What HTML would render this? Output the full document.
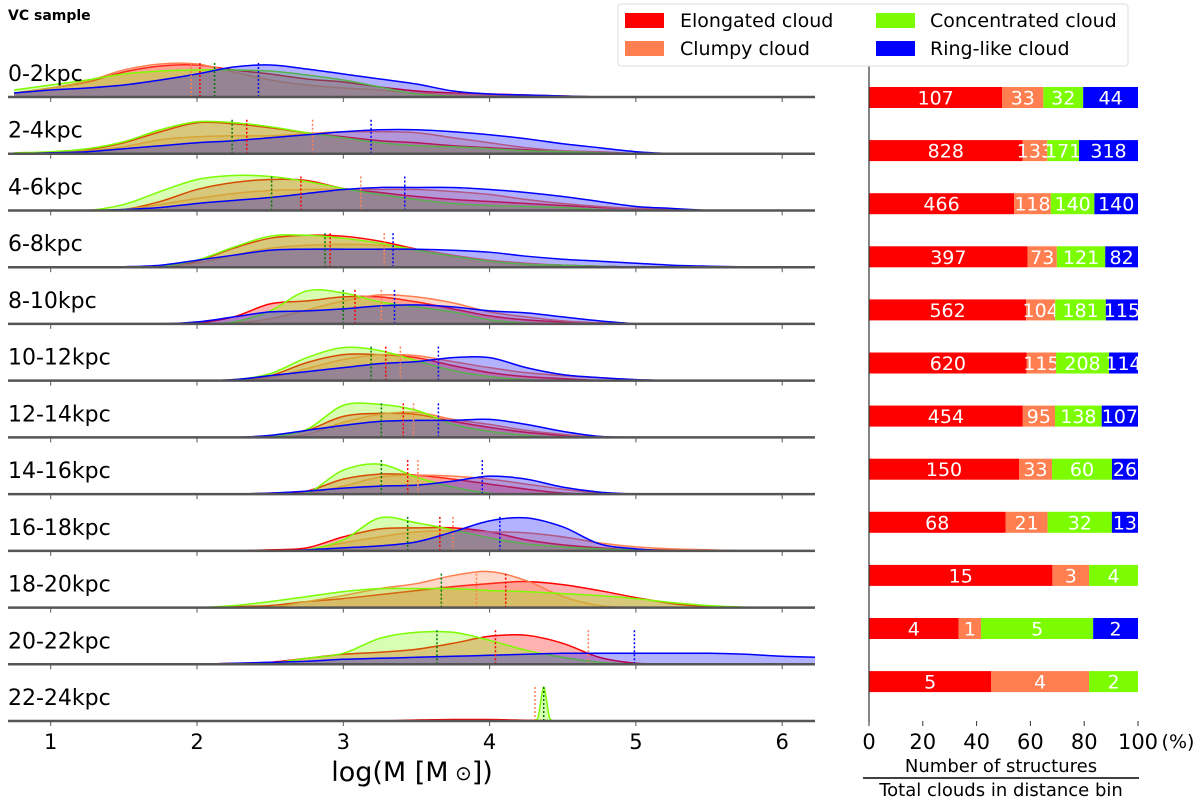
<!DOCTYPE html>
<html><head><meta charset="utf-8">
<style>
html,body{margin:0;padding:0;background:#fff;}
svg{display:block;font-family:"DejaVu Sans","Liberation Sans",sans-serif;}
</style></head>
<body>
<svg id="chart" width="1200" height="802" viewBox="0 0 1200 802" xmlns="http://www.w3.org/2000/svg">
<text x="8" y="20" font-size="14" font-weight="bold">VC sample</text>
<g id="ridges"></g>
<g id="bars"></g>
<g>
<rect x="618" y="4" width="510" height="62" rx="3" fill="#fff" stroke="#ddd"/>
<rect x="625" y="13" width="39" height="15" fill="#ff0000"/>
<text x="680" y="27" font-size="19">Elongated cloud</text>
<rect x="625" y="41" width="39" height="15" fill="#ff7f50"/>
<text x="680" y="55" font-size="19">Clumpy cloud</text>
<rect x="876" y="13" width="39" height="15" fill="#7cfc00"/>
<text x="930" y="27" font-size="19">Concentrated cloud</text>
<rect x="876" y="41" width="39" height="15" fill="#0000ff"/>
<text x="930" y="55" font-size="19">Ring-like cloud</text>
</g>
<text x="412" y="781" font-size="27" text-anchor="middle">log(M [M<tspan font-size="20" dy="-1"> ⊙</tspan><tspan dy="1">])</tspan></text>
<text x="1178" y="748" font-size="19" text-anchor="middle">(%)</text>
<text x="1001" y="772" font-size="18" text-anchor="middle">Number of structures</text>
<line x1="863" y1="778" x2="1139" y2="778" stroke="#000" stroke-width="1.5"/>
<text x="1001" y="796" font-size="18" text-anchor="middle">Total clouds in distance bin</text>
</svg>
<script>
// ---- data ----
const rowLabels = ["0-2kpc","2-4kpc","4-6kpc","6-8kpc","8-10kpc","10-12kpc","12-14kpc","14-16kpc","16-18kpc","18-20kpc","20-22kpc","22-24kpc"];
const gridLogM = [0.75,1,1.25,1.5,1.75,2,2.25,2.5,2.75,3,3.25,3.5,3.75,4,4.25,4.5,4.75,5,5.25,5.5,5.75,6,6.25];
const densElongated = [
 [4,9,15,25,31,32,27,23,18,15,10,6,4,3,2,1,0],
 [0,1,4,11,22,31,30,26,21,17,13,11,8,6,4,2,1,0],
 [0,0,0,1,9,21,28,31,30,22,18,14,11,9,7,5,3,2,1,0],
 [0,0,0,0,0,6,19,29,32,31,26,18,11,6,3,2,1,0],
 [0,0,0,0,0,1,7,20,23,27,27,22,15,8,4,2,1,0],
 [0,0,0,0,0,0,1,5,18,26,26,23,15,8,4,2,0],
 [0,0,0,0,0,0,0,1,7,21,24,23,16,10,5,2,0],
 [0,0,0,0,0,0,0,1,3,15,20,19,15,10,5,1,0],
 [0,0,0,0,0,0,0,1,3,14,22,23,23,19,11,6,3,1,1,0.5,0],
 [0,0,0,0,0,0,1,2,6,9,13,17,21,24,26,23,17,10,4,1,0],
 [0,0,0,0,0,0,1,2,6,10,12,15,21,28,29,21,7,1,0],
 [0,0,0,0,0,0,0,0,0,0,0,1,1.5,1.5,0.8,0]
];
const densClumpy = [
 [4,9,16,27,33,33,25,17,12,9,7,4,3,2,1,1,0],
 [0,1,3,7,14,17,18,18,20,22,22,21,16,11,6,3,2,0],
 [0,0,0,1,6,12,17,20,21,21,21,21,19,16,11,7,4,2,1,0],
 [0,0,0,0,1,4,12,19,22,23,22,18,12,7,4,2,1,0],
 [0,0,0,0,0,0,1,5,14,23,29,27,21,12,7,3,1,0],
 [0,0,0,0,0,0,0,3,12,21,26,25,19,13,8,5,3,1,0],
 [0,0,0,0,0,0,0,0,3,15,23,25,18,13,7,3,0],
 [0,0,0,0,0,0,0,0,1,8,17,19,18,15,10,5,1,0],
 [0,0,0,0,0,0,0,0,1,8,14,19,20,19,18,14,8,4,2,1,0],
 [0,0,0,0,0,0,0,0,6,12,19,24,32,36,27,11,2,0],
 null,
 null
];
const densConcentrated = [
 [7,12,17,23,26,27,27,26,22,17,10,3,1,0],
 [1,2,5,12,24,32,31,27,21,16,11,8,7,5,3,2,1,0],
 [0,0,0,6,19,31,35,34,29,22,16,11,7,5,4,3,1,0],
 [0,0,0,0,1,7,20,31,32,29,24,17,11,6,3,2,1,0],
 [0,0,0,0,0,0,2,13,33,31,22,17,12,4,1,0],
 [0,0,0,0,0,0,1,7,23,33,30,20,10,4,1,0],
 [0,0,0,0,0,0,0,1,8,32,33,27,13,6,2,0],
 [0,0,0,0,0,0,0,0,1,24,30,17,7,1,0],
 [0,0,0,0,0,0,0,0,1,11,33,28,21,13,7,4,2,1,0],
 [0,0,0,0,0,0,2,6,11,16,19,19,19,17,16,14,12,9,5,2,0.5,0],
 [0,0,0,0,0,0,0,1,6,11,26,32,32,24,14,7,2,0],
 null
];
const densRing = [
 [4,7,9,12,17,23,30,32,28,23,18,13,6,3,2,1,0],
 [0,1,2,5,8,11,13,16,19,22,24,24,22,19,15,10,6,2,0],
 [0,0,0,1,3,7,10,13,17,21,23,23,23,21,18,14,9,4,2,0],
 [0,0,0,0.5,2,7,12,17,18,18,18,18,17,15,11,8,6,4,2,1,0.3,0],
 [0,0,0,0,0,2,7,12,13,15,18,19,17,13,11,7,3,0],
 [0,0,0,0,0,0,1,5,9,13,17,19,23,23,13,6,3,1,0],
 [0,0,0,0,0,0,0,2,7,12,16,17,17,18,13,6,1,0],
 [0,0,0,0,0,0,0,1,3,6,8,9,13,18,15,7,2,0],
 [0,0,0,0,0,0,0,0,1,3,5,9,19,30,33,24,7,2,0],
 null,
 [0,0,0,0,0,0,1,2,3,5,6,7,8,9,10,11,11,11,11,11,10,8,7],
 null
];
const spikeLogM = [4.30,4.33,4.35,4.37,4.39,4.41,4.44];
const spikeDens = [0,3,20,34,20,3,0];
const medElongated = [2.02,2.34,2.71,2.91,3.08,3.29,3.41,3.44,3.66,4.11,4.04,null];
const medClumpy = [1.96,2.79,3.12,3.28,3.26,3.39,3.48,3.51,3.75,3.91,4.675,4.31];
const medConcentrated = [2.12,2.24,2.51,2.875,3.0,3.19,3.26,3.26,3.44,3.67,3.64,4.37];
const medRing = [2.42,3.19,3.42,3.34,3.35,3.65,3.65,3.95,4.07,null,4.99,null];
const cntElongated = [107,828,466,397,562,620,454,150,68,15,4,5];
const cntClumpy = [33,133,118,73,104,115,95,33,21,3,1,4];
const cntConcentrated = [32,171,140,121,181,208,138,60,32,4,5,2];
const cntRing = [44,318,140,82,115,114,107,26,13,0,2,0];
const xTicks = [1,2,3,4,5,6];
const pctTicks = [0,20,40,60,80,100];

// ---- scales ----
const NS = "http://www.w3.org/2000/svg";
const xL = v => 50.7 + (v - 1) * 146.3;
const baseY = i => 97 + i * 56.73;
const barY = i => 97.5 + i * 53.1;
const hS = v => v * 1.0;
const pX = p => 869 + p * 2.69;
const AX0 = 8, AX1 = 815;
function mk(tag, attrs, parent){ const e=document.createElementNS(NS,tag); for(const k in attrs) e.setAttribute(k,attrs[k]); parent.appendChild(e); return e; }
const ridges = document.getElementById('ridges');
const bars = document.getElementById('bars');
const svg = document.getElementById('chart');
const defs = mk('defs',{},svg);
const cp = mk('clipPath',{id:'clipL'},defs);
mk('rect',{x:AX0,y:0,width:AX1-AX0,height:802},cp);

function smoothPath(pts){
  let d = `M${pts[0][0]},${pts[0][1]}`;
  for(let i=0;i<pts.length-1;i++){
    const p0=pts[Math.max(0,i-1)],p1=pts[i],p2=pts[i+1],p3=pts[Math.min(pts.length-1,i+2)];
    const c1x=p1[0]+(p2[0]-p0[0])/6, c1y=p1[1]+(p2[1]-p0[1])/6;
    const c2x=p2[0]-(p3[0]-p1[0])/6, c2y=p2[1]-(p3[1]-p1[1])/6;
    d += ` C${c1x},${Math.min(c1y,pts[0][2])} ${c2x},${Math.min(c2y,pts[0][2])} ${p2[0]},${p2[1]}`;
  }
  return d;
}
const series = [
  {dens:densElongated, med:medElongated, col:'#ff0000', medCol:'#ff0000', key:'elongated'},
  {dens:densClumpy, med:medClumpy, col:'#ff7f50', medCol:'#ff7f50', key:'clumpy'},
  {dens:densConcentrated, med:medConcentrated, col:'#7cfc00', medCol:'#007a00', key:'concentrated'},
  {dens:densRing, med:medRing, col:'#0000ff', medCol:'#0000ff', key:'ring'}
];
const gL = mk('g',{'clip-path':'url(#clipL)'},ridges);
rowLabels.forEach((lab,i)=>{
  const by = baseY(i);
  const t = mk('text',{x:8,y:by-16,'font-size':22},ridges);
  t.textContent = lab;
  
  
  series.forEach(s=>{
    let xs = gridLogM, ys = s.dens[i];
    if(i===11 && s.key==='concentrated'){ xs = spikeLogM; ys = spikeDens; }
    if(!ys) return;
    const pts = ys.map((v,k)=>[xL(xs[k]), by - hS(v), by]);
    const last = pts[pts.length-1];
    const line = smoothPath(pts);
    const area = mk('path',{d: line + ` L${last[0]},${by} L${pts[0][0]},${by} Z`, fill:s.col, 'fill-opacity':0.3, stroke:'none'},gL);
    
    
    const ln = mk('path',{d:line, fill:'none', stroke:s.col, 'stroke-width':1.5},gL);
    
    
  });
  series.forEach(s=>{
    const m = s.med[i];
    if(m==null) return;
    const ml = mk('line',{x1:xL(m),x2:xL(m),y1:by,y2:by-36,stroke:s.medCol,'stroke-width':1.5,'stroke-dasharray':'2,2'},gL);
    
    
  });
  const bl = mk('line',{x1:AX0,x2:AX1,y1:by,y2:by,stroke:'#555','stroke-width':2.5},ridges);
  
  
  xTicks.forEach(v=>{
    const tk = mk('line',{x1:xL(v),x2:xL(v),y1:by+1,y2:by+5,stroke:'#555','stroke-width':1},ridges);
    
    
  });
  // bars
  const bcy = barY(i);
  const c = [cntElongated[i],cntClumpy[i],cntConcentrated[i],cntRing[i]];
  const tot = c.reduce((a,b)=>a+b,0);
  let acc = 0;
  c.forEach((v,k)=>{
    if(v===0) return;
    const p0 = acc/tot*100, p1 = (acc+v)/tot*100; acc += v;
    const r = mk('rect',{x:pX(p0),y:bcy-10.5,width:pX(p1)-pX(p0),height:21,fill:series[k].col},bars);
    
    
    const tx = mk('text',{x:(pX(p0)+pX(p1))/2,y:bcy+7,'font-size':19,fill:'#fff','text-anchor':'middle'},bars);
    tx.textContent = v;
    
    
  });
});
xTicks.forEach(v=>{
  const t = mk('text',{x:xL(v),y:749,'font-size':21,'text-anchor':'middle'},ridges);
  t.textContent = v;
  
  
});
const ax = mk('line',{x1:869,x2:869,y1:57,y2:722,stroke:'#333','stroke-width':1.2},bars);


pctTicks.forEach(p=>{
  const tk = mk('line',{x1:pX(p),x2:pX(p),y1:721,y2:726,stroke:'#333','stroke-width':1},bars);
  
  
  const t = mk('text',{x:pX(p),y:749,'font-size':21,'text-anchor':'middle'},bars);
  t.textContent = p;
  
  
});
</script>
</body></html>
